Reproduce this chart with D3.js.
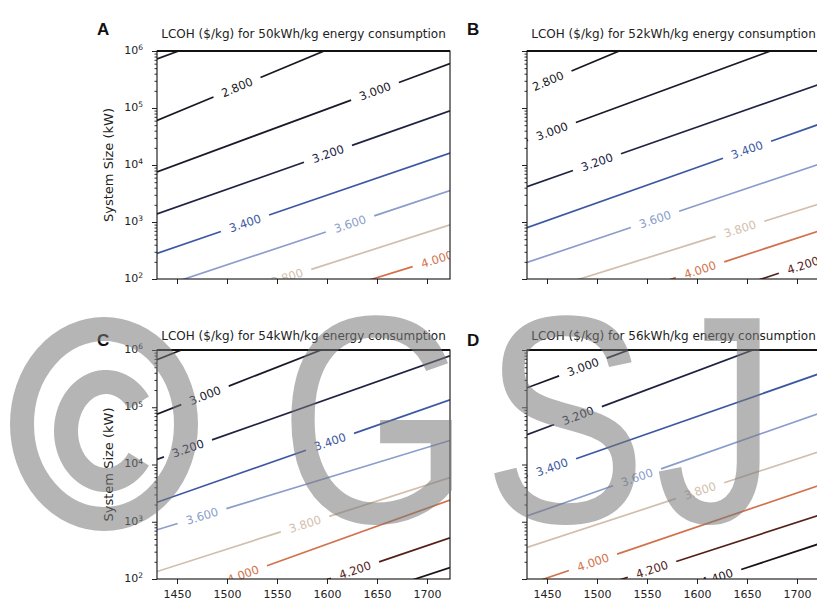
<!DOCTYPE html>
<html><head><meta charset="utf-8">
<script src="https://cdn.jsdelivr.net/npm/d3@7"></script>
<style>body{margin:0;background:#fff}</style>
</head><body>
<svg id="chart" width="817" height="608"></svg>
<script>
// ---------- data ----------
const xDomain = [1430, 1723];
const xTickValues = [1450, 1500, 1550, 1600, 1650, 1700];
const yTickExponents = [2, 3, 4, 5, 6];
const panelLetters = ["A", "B", "C", "D"];
const energyConsumption = [50, 52, 54, 56]; // kWh/kg
const yAxisTitle = "System Size (kW)";

// contour levels (LCOH $/kg), log10(system size kW) where each contour meets x=1430 and x=1723,
// and the x position of each inline label
const levelsA = [2.6, 2.8, 3.0, 3.2, 3.4, 3.6, 3.8, 4.0];
const logSizeStartA = [5.86, 4.78, 3.88, 3.14, 2.45, 1.84, 1.30, 0.83];
const logSizeEndA   = [7.76, 6.92, 5.78, 4.95, 4.21, 3.55, 2.95, 2.42];
const labelXA       = [null, 1510, 1648, 1601, 1518, 1623, 1560, 1710];

const levelsB = [2.8, 3.0, 3.2, 3.4, 3.6, 3.8, 4.0, 4.2];
const logSizeStartB = [5.32, 4.43, 3.62, 2.90, 2.29, 1.71, 1.17, 0.64];
const logSizeEndB   = [7.48, 6.32, 5.42, 4.72, 4.02, 3.32, 2.85, 2.34];
const labelXB       = [1451, 1455, 1500, 1650, 1558, 1643, 1603, 1706];

const levelsC = [2.8, 3.0, 3.2, 3.4, 3.6, 3.8, 4.0, 4.2, 4.4];
const logSizeStartC = [5.83, 4.88, 4.09, 3.34, 2.86, 2.13, 1.54, 0.98, 0.51];
const logSizeEndC   = [7.88, 6.88, 5.90, 5.13, 4.42, 3.77, 3.38, 2.72, 2.20];
const labelXC       = [null, 1478, 1461, 1603, 1475, 1578, 1516, 1628, null];

const levelsD = [3.0, 3.2, 3.4, 3.6, 3.8, 4.0, 4.2, 4.4];
const logSizeStartD = [5.34, 4.52, 3.80, 3.10, 2.55, 1.90, 1.46, 0.93];
const logSizeEndD   = [7.24, 6.44, 5.59, 4.90, 4.23, 3.64, 3.12, 2.62];
const labelXD       = [1486, 1481, 1455, 1540, 1603, 1496, 1555, 1620];

// ---------- styles ----------
const paletteLevels = [2.6, 2.8, 3.0, 3.2, 3.4, 3.6, 3.8, 4.0, 4.2, 4.4];
const paletteColors = ["#1c1626", "#1a1922", "#1b1a2a", "#202244", "#3d58a2", "#8a9dcb",
                       "#d2bead", "#d2724c", "#552019", "#1c1114"];
const colorFor = v => paletteColors[paletteLevels.findIndex(l => Math.abs(l - v) < 1e-6)];

const panels = [
  {levels: levelsA, s0: logSizeStartA, s1: logSizeEndA, lx: labelXA},
  {levels: levelsB, s0: logSizeStartB, s1: logSizeEndB, lx: labelXB},
  {levels: levelsC, s0: logSizeStartC, s1: logSizeEndC, lx: labelXC},
  {levels: levelsD, s0: logSizeStartD, s1: logSizeEndD, lx: labelXD}
];
const layout = [
  {left: 157, top: 51,  w: 293, h: 228, yLab: true,  xLab: false, letterY: 35,  titleY: 38},
  {left: 527, top: 51,  w: 293, h: 228, yLab: false, xLab: false, letterY: 35,  titleY: 38},
  {left: 157, top: 350, w: 293, h: 229, yLab: true,  xLab: true,  letterY: 346, titleY: 340},
  {left: 527, top: 350, w: 293, h: 229, yLab: false, xLab: true,  letterY: 346, titleY: 340}
];

const svg = d3.select("#chart");
svg.append("rect").attr("width", 817).attr("height", 608).attr("fill", "#fff");
const defs = svg.append("defs");
const FONT = "DejaVu Sans, sans-serif";

panels.forEach((p, i) => {
  const L = layout[i];
  const x = d3.scaleLinear().domain(xDomain).range([L.left, L.left + L.w]);
  const y = d3.scaleLog().domain([1e2, 1e6]).range([L.top + L.h, L.top]);
  const g = svg.append("g");

  defs.append("clipPath").attr("id", "clip" + i).append("rect")
    .attr("x", L.left).attr("y", L.top).attr("width", L.w).attr("height", L.h);

  // contour lines
  const cg = g.append("g").attr("clip-path", `url(#clip${i})`);
  const line = d3.line();
  p.levels.forEach((lev, j) => {
    const col = colorFor(lev);
    const p0 = [x(xDomain[0]), y(Math.pow(10, p.s0[j]))];
    const p1 = [x(xDomain[1]), y(Math.pow(10, p.s1[j]))];
    const dx = p1[0] - p0[0], dy = p1[1] - p0[1];
    const len = Math.hypot(dx, dy);
    const u = [dx / len, dy / len];
    const sw = 1.7;
    if (p.lx[j] == null) {
      cg.append("path").attr("d", line([p0, p1])).attr("stroke", col)
        .attr("stroke-width", sw).attr("fill", "none");
      return;
    }
    const t = (x(p.lx[j]) - p0[0]) / dx;
    const c = [p0[0] + t * dx, p0[1] + t * dy];
    const ang = Math.atan2(dy, dx) * 180 / Math.PI;
    const txt = cg.append("text")
      .attr("transform", `translate(${c[0]},${c[1]}) rotate(${ang})`)
      .attr("text-anchor", "middle").attr("dy", "0.36em")
      .attr("font-family", FONT).attr("font-size", 11.5)
      .attr("fill", col).text(d3.format(".3f")(lev));
    const tw = txt.node().getComputedTextLength();
    const hgap = tw / 2 + 9;
    const a = [c[0] - hgap * u[0], c[1] - hgap * u[1]];
    const b = [c[0] + hgap * u[0], c[1] + hgap * u[1]];
    cg.append("path").attr("d", line([p0, a])).attr("stroke", col)
      .attr("stroke-width", sw).attr("fill", "none");
    cg.append("path").attr("d", line([b, p1])).attr("stroke", col)
      .attr("stroke-width", sw).attr("fill", "none");
  });

  // x axis
  const xa = g.append("g").attr("transform", `translate(0,${L.top + L.h})`)
    .call(d3.axisBottom(x).tickValues(xTickValues).tickSize(5).tickPadding(6)
      .tickFormat(L.xLab ? d3.format("d") : () => ""));
  xa.select(".domain").remove();
  xa.selectAll("text").attr("font-family", FONT).attr("font-size", 11).attr("fill", "#222");
  xa.selectAll("line").attr("stroke", "#222");

  // y axis major + minor
  const majors = yTickExponents.map(e => Math.pow(10, e));
  const minors = [];
  yTickExponents.slice(0, -1).forEach(e => { for (let k = 2; k <= 9; k++) minors.push(k * Math.pow(10, e)); });
  const ya = g.append("g").attr("transform", `translate(${L.left},0)`)
    .call(d3.axisLeft(y).tickValues(majors).tickSize(5).tickFormat(() => ""));
  ya.select(".domain").remove();
  ya.selectAll("line").attr("stroke", "#222");
  const ym = g.append("g").attr("transform", `translate(${L.left},0)`)
    .call(d3.axisLeft(y).tickValues(minors).tickSize(2.5).tickFormat(() => ""));
  ym.select(".domain").remove();
  ym.selectAll("line").attr("stroke", "#333");
  if (L.yLab) {
    yTickExponents.forEach(e => {
      const t = g.append("text").attr("x", L.left - 14).attr("y", y(Math.pow(10, e)))
        .attr("dy", "0.25em").attr("text-anchor", "end")
        .attr("font-family", FONT).attr("font-size", 11).attr("fill", "#222");
      t.append("tspan").text("10");
      t.append("tspan").attr("dy", "-0.45em").attr("font-size", 7.5).text(String(e));
    });
    g.append("text")
      .attr("transform", `translate(${L.left - 44},${L.top + L.h / 2}) rotate(-90)`)
      .attr("text-anchor", "middle").attr("font-family", FONT).attr("font-size", 13)
      .attr("fill", "#222").text(yAxisTitle);
  }

  // spines
  g.append("rect").attr("x", L.left).attr("y", L.top).attr("width", L.w).attr("height", L.h)
    .attr("fill", "none").attr("stroke", "#111").attr("stroke-width", 1.1);
  g.append("line").attr("x1", L.left).attr("x2", L.left + L.w)
    .attr("y1", L.top).attr("y2", L.top).attr("stroke", "#111").attr("stroke-width", 1.8);

  // title + panel letter
  g.append("text").attr("x", L.left + L.w / 2).attr("y", L.titleY)
    .attr("text-anchor", "middle").attr("font-family", FONT).attr("font-size", 12)
    .attr("fill", "#222")
    .text(`LCOH ($/kg) for ${energyConsumption[i]}kWh/kg energy consumption`);
  g.append("text").attr("x", L.left - 60).attr("y", L.letterY)
    .attr("font-family", "Liberation Sans, Arial, sans-serif").attr("font-weight", "bold")
    .attr("font-size", 17).attr("fill", "#111").text(panelLetters[i]);
});

// ---------- watermark ----------
const wm = svg.append("g").attr("opacity", 0.55).attr("fill", "rgb(120,120,120)")
  .attr("stroke", "rgb(120,120,120)");
wm.append("ellipse").attr("cx", 104).attr("cy", 424).attr("rx", 82).attr("ry", 95)
  .attr("fill", "none").attr("stroke-width", 24);
{
  const cx = 106, cy = 431, rx = 40, ry = 49;
  const a0 = 35 * Math.PI / 180, a1 = 325 * Math.PI / 180;
  const pts = d3.range(0, 61).map(k => {
    const a = a0 + (a1 - a0) * k / 60;
    return [cx + rx * Math.cos(a), cy - ry * Math.sin(a)];
  });
  wm.append("path").attr("d", d3.line()(pts)).attr("fill", "none").attr("stroke-width", 24);
}
[["G", 279], ["S", 483], ["J", 655]].forEach(([ch, px]) => {
  wm.append("text").attr("transform", `translate(${px},522) scale(0.83,1)`)
    .attr("font-family", "Liberation Sans, Arial, sans-serif").attr("font-size", 296)
    .attr("stroke", "none").text(ch);
});
</script>
</body></html>
